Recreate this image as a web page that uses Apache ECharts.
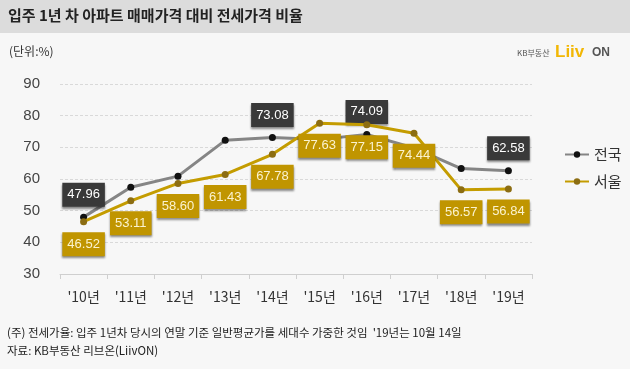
<!DOCTYPE html>
<html><head><meta charset="utf-8">
<script src="https://cdn.jsdelivr.net/npm/echarts@6/dist/echarts.min.js"></script>
<style>html,body{margin:0;padding:0;background:#f7f7f7}#c{width:630px;height:369px}</style>
</head><body><div id="c"></div>
<script>
const categories = ["'10년","'11년","'12년","'13년","'14년","'15년","'16년","'17년","'18년","'19년"];
const nationwide = [47.96, 57.4, 60.9, 72.2, 73.08, 72.5, 74.09, 69.8, 63.3, 62.58];
const seoul = [46.52, 53.11, 58.60, 61.43, 67.78, 77.63, 77.15, 74.44, 56.57, 56.84];
const nationwideLabelIdx = [0, 4, 6, 9];
const yTicks = {min: 30, max: 90, interval: 10};

const F = '"Noto Sans CJK KR", "Liberation Sans", sans-serif';
const chart = echarts.init(document.getElementById('c'));
const darkLabel = {
  show: true, position: 'top', distance: 7,
  backgroundColor: '#393939', color: '#ffffff', padding: [5, 5, 5, 5],
  fontFamily: '"Liberation Sans", Arial, sans-serif', fontSize: 13, lineHeight: 14,
  shadowColor: 'rgba(0,0,0,0.45)', shadowBlur: 2, shadowOffsetY: 2,
  formatter: p => p.value.toFixed(2)
};
const goldLabel = {
  show: true, position: 'bottom', distance: 7,
  backgroundColor: '#c09500', color: '#fbf3cf', padding: [5, 5, 5, 5],
  fontFamily: '"Liberation Sans", Arial, sans-serif', fontSize: 13, lineHeight: 14,
  shadowColor: 'rgba(0,0,0,0.45)', shadowBlur: 2, shadowOffsetY: 2,
  formatter: p => p.value.toFixed(2)
};
chart.setOption({
  backgroundColor: '#f7f7f7',
  animation: false,
  graphic: [
    {type: 'rect', left: 0, top: 0, shape: {width: 630, height: 33}, style: {fill: '#dcdcdc'}, z: -1},
    {type: 'text', left: 8, top: 8, style: {text: '입주 1년 차 아파트 매매가격 대비 전세가격 비율', font: 'bold 15px ' + F, fill: '#222'}},
    {type: 'text', left: 9, top: 45, style: {text: '(단위:%)', font: '12px ' + F, fill: '#333'}},
    {type: 'text', left: 517, top: 49, style: {text: 'KB부동산', font: '8px ' + F, fill: '#555'}},
    {type: 'text', left: 555, top: 44, style: {text: 'Liiv', font: 'bold 17px "Liberation Sans", sans-serif', fill: '#f2b705'}},
    {type: 'text', left: 592, top: 47, style: {text: 'ON', font: 'bold 12px "Liberation Sans", sans-serif', fill: '#555'}},
    {type: 'text', left: 7, top: 327, style: {text: "(주) 전세가율: 입주 1년차 당시의 연말 기준 일반평균가를 세대수 가중한 것임  '19년는 10월 14일", font: '11.5px ' + F, fill: '#222'}},
    {type: 'text', left: 7, top: 345, style: {text: '자료: KB부동산 리브온(LiivON)', font: '11.5px ' + F, fill: '#222'}}
  ],
  grid: {left: 60, right: 98, top: 84, bottom: 95},
  legend: {
    orient: 'vertical', left: 559, top: 142, itemWidth: 24, itemHeight: 8, itemGap: 12,
    textStyle: {fontFamily: F, fontSize: 15, color: '#333'},
    data: ['전국', '서울']
  },
  xAxis: {
    type: 'category', data: categories, boundaryGap: true,
    axisLine: {lineStyle: {color: '#cfcfcf', width: 1}},
    axisTick: {show: true, length: 5, lineStyle: {color: '#cfcfcf'}},
    axisLabel: {color: '#333', fontFamily: F, fontSize: 14, margin: 16}
  },
  yAxis: {
    type: 'value', min: yTicks.min, max: yTicks.max, interval: yTicks.interval,
    axisLine: {show: false}, axisTick: {show: false},
    axisLabel: {color: '#444', fontFamily: '"Liberation Sans", Arial, sans-serif', fontSize: 15, margin: 20},
    splitLine: {lineStyle: {color: '#d9d9d9', type: [3, 2]}}
  },
  series: [
    {
      name: '전국', type: 'line', symbol: 'circle', symbolSize: 7,
      lineStyle: {color: '#858585', width: 3},
      itemStyle: {color: '#111'},
      data: nationwide.map((v, i) => nationwideLabelIdx.includes(i) ? {value: v, label: darkLabel} : {value: v}),
      label: {show: false}, z: 2
    },
    {
      name: '서울', type: 'line', symbol: 'circle', symbolSize: 7,
      lineStyle: {color: '#c49c00', width: 3},
      itemStyle: {color: '#8c6d12'},
      data: seoul, label: goldLabel, z: 3
    }
  ]
});
</script></body></html>
